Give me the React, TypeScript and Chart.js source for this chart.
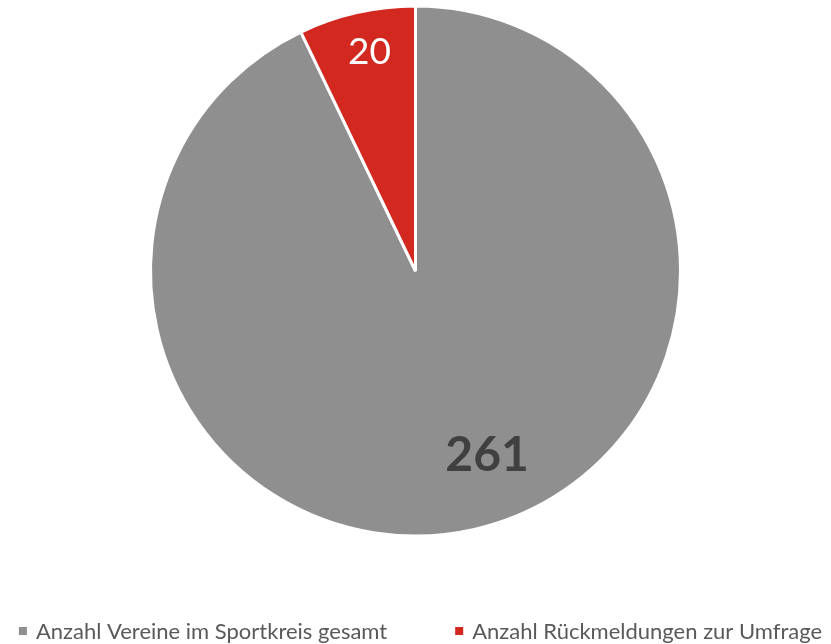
import React, { useEffect, useRef } from "react";
import { Chart, registerables } from "chart.js";

Chart.register(...registerables);

const categories = ["Anzahl Vereine im Sportkreis gesamt", "Anzahl Rückmeldungen zur Umfrage"];
const values = [261, 20];
const sliceColors = ["#8F8F8F", "#D3281F"];

const FONT = "Lato, Carlito, 'Liberation Sans', sans-serif";

const labelPlugin = {
  id: "sliceLabels",
  afterDatasetsDraw(chart: any) {
    const ctx = chart.ctx;
    const meta = chart.getDatasetMeta(0);
    const styles = [
      { font: `bold 48px ${FONT}`, color: "#404040", frac: 0.74, shift: -0.15, size: 48 },
      { font: `37px ${FONT}`, color: "#FFFFFF", frac: 0.848, shift: 0.017, size: 37 },
    ];
    meta.data.forEach((arc: any, i: number) => {
      const { x, y, startAngle, endAngle, outerRadius } = arc.getProps(
        ["x", "y", "startAngle", "endAngle", "outerRadius"],
        true
      );
      const s = styles[i];
      const mid = (startAngle + endAngle) / 2 + s.shift;
      const r = outerRadius * s.frac;
      const lx = x + Math.cos(mid) * r;
      const ly = y + Math.sin(mid) * r;
      ctx.save();
      ctx.font = s.font;
      ctx.fillStyle = s.color;
      ctx.textAlign = "center";
      ctx.textBaseline = "alphabetic";
      ctx.fillText(String(values[i]), lx, ly + s.size * 0.36);
      ctx.restore();
    });
  },
};

const legendPlugin = {
  id: "customLegend",
  afterDraw(chart: any) {
    const ctx = chart.ctx;
    ctx.save();
    ctx.font = `22px ${FONT}`;
    const box = 8;
    const gap = 9;
    const itemGap = 68;
    const widths = categories.map((c) => ctx.measureText(c).width);
    const total = widths.reduce((a, w) => a + box + gap + w, 0) + itemGap * (categories.length - 1);
    let x = (chart.width - total) / 2 + 5;
    const baseline = 639;
    categories.forEach((c, i) => {
      ctx.fillStyle = sliceColors[i];
      ctx.fillRect(x, baseline - 12, box, box);
      x += box + gap;
      ctx.fillStyle = "#595959";
      ctx.textAlign = "left";
      ctx.textBaseline = "alphabetic";
      ctx.fillText(c, x, baseline);
      x += widths[i] + itemGap;
    });
    ctx.restore();
  },
};

export default function App() {
  const ref = useRef<HTMLCanvasElement | null>(null);
  useEffect(() => {
    if (!ref.current) return;
    const chart = new Chart(ref.current, {
      type: "pie",
      data: {
        labels: categories,
        datasets: [
          {
            data: values,
            backgroundColor: sliceColors,
            borderColor: "#FFFFFF",
            borderWidth: 3,
            hoverOffset: 0,
          },
        ],
      },
      options: {
        animation: false,
        responsive: false,
        maintainAspectRatio: false,
        radius: 265,
        layout: { padding: { top: 6, bottom: 108, left: 0, right: 0 } },
        plugins: {
          legend: { display: false },
          tooltip: { enabled: false },
        },
      } as any,
      plugins: [labelPlugin, legendPlugin],
    });
    return () => chart.destroy();
  }, []);
  return (
    <div style={{ position: "fixed", left: 0, top: 0, width: 831, height: 644, background: "#fff" }}>
      <canvas ref={ref} width={831} height={644} style={{ width: 831, height: 644, display: "block" }} />
    </div>
  );
}
